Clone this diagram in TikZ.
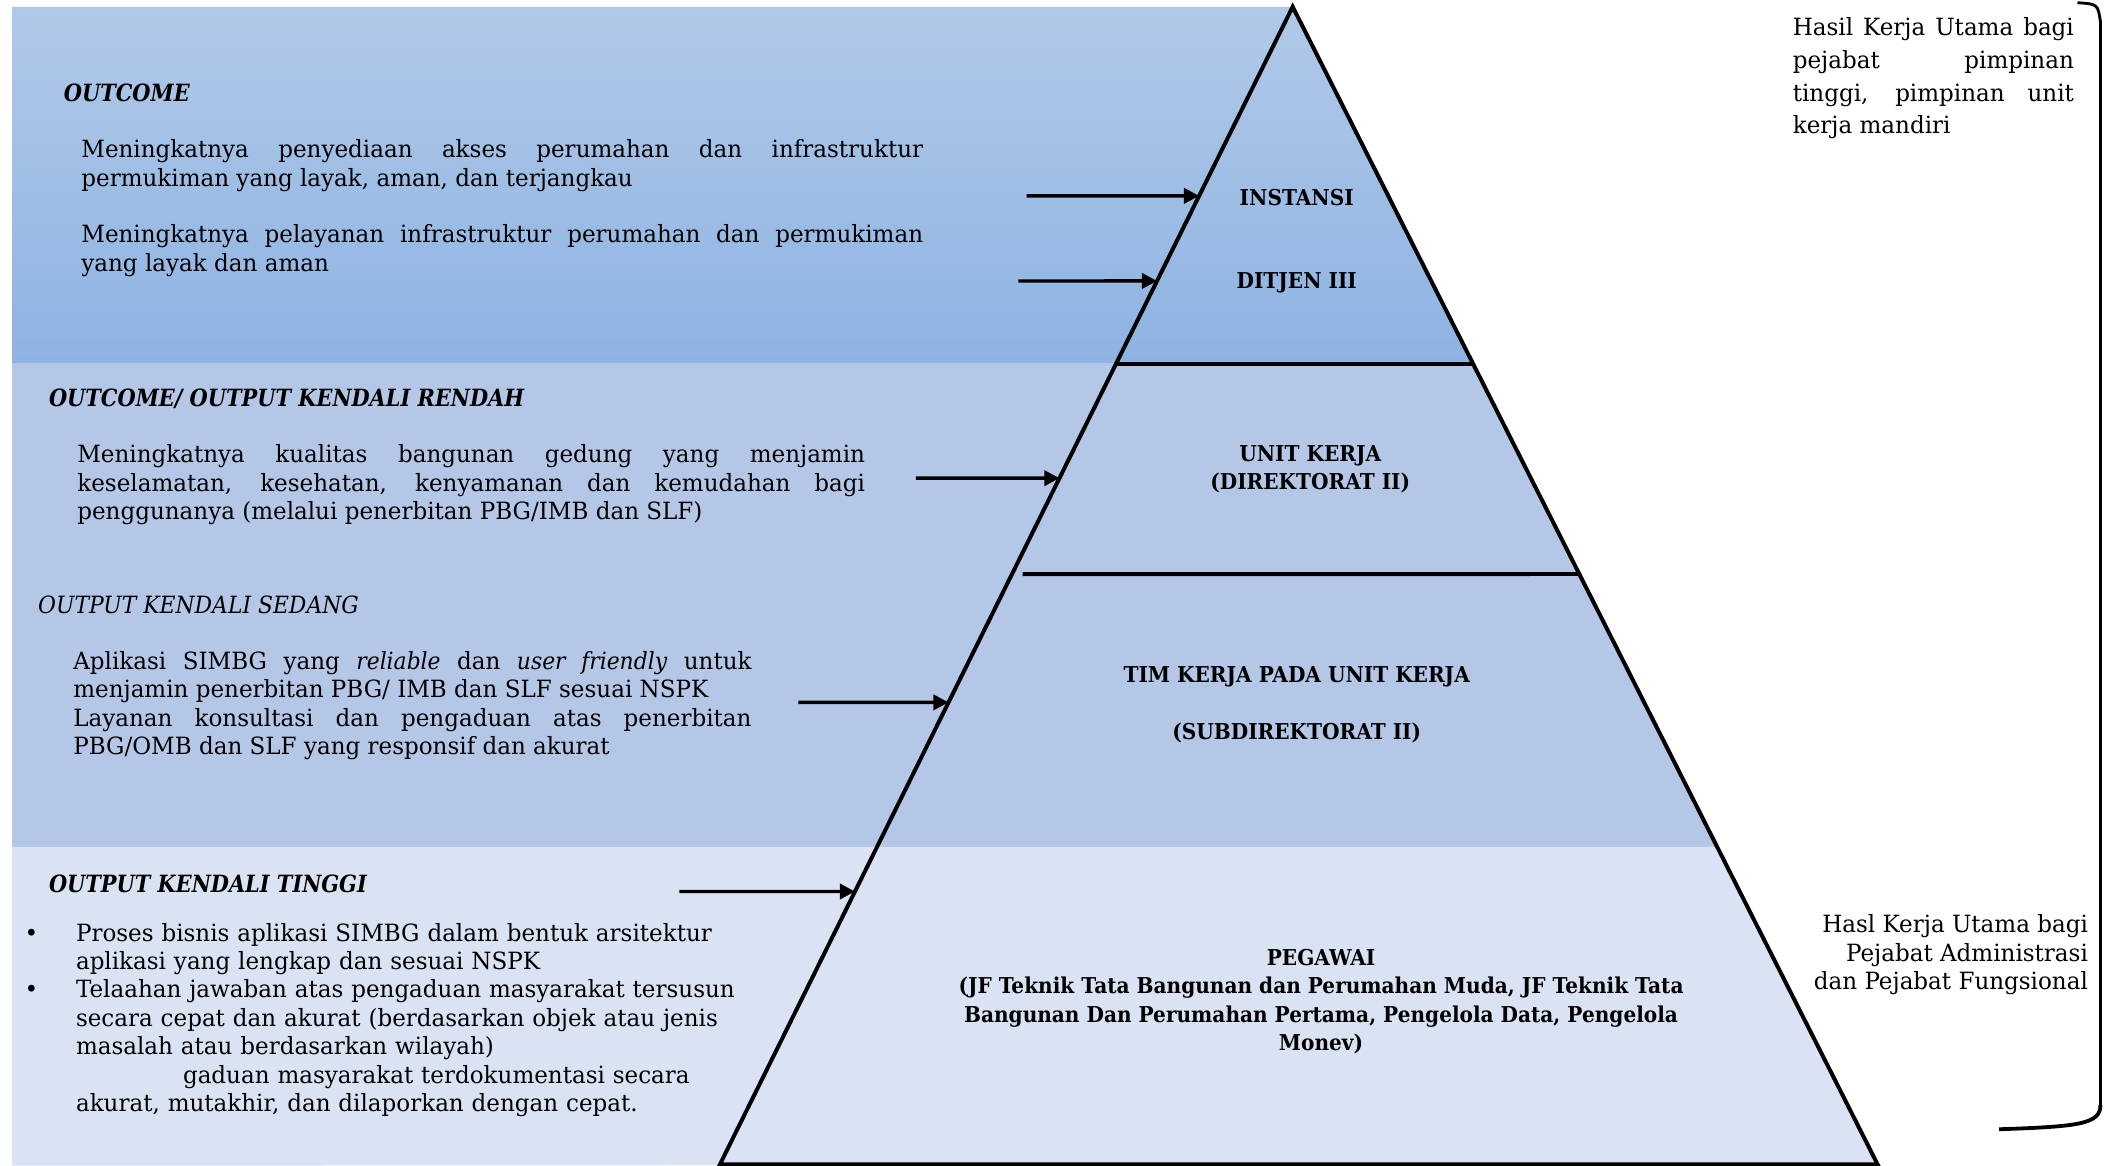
\documentclass[tikz,border=0pt]{standalone}
\usepackage{fontspec}
\setmainfont{DejaVu Serif}[FakeStretch=0.97, ItalicFeatures={FakeStretch=0.92}, BoldFeatures={FakeStretch=0.92}, BoldItalicFeatures={FakeStretch=0.88}]
\usetikzlibrary{arrows.meta, calc}

\definecolor{topband}{HTML}{B1C9E8}
\definecolor{topbandlow}{HTML}{8DB3E2}
\definecolor{midband}{HTML}{B4C7E7}
\definecolor{lowband}{HTML}{DAE3F3}

\tikzset{
 body/.style={font=\fontsize{12.5}{15}\selectfont, inner sep=0pt, anchor=north west, align=justify},
 head/.style={font=\fontsize{12.5}{15}\selectfont\bfseries\itshape, inner sep=0pt, anchor=west},
 lvl/.style={font=\fontsize{11.5}{15}\selectfont\bfseries, inner sep=0pt, align=center},
 arr/.style={line width=1.8pt, -{Triangle[length=8pt, width=8pt]}},
 pyr/.style={line width=2.1pt, line join=miter}
}

\begin{document}
\begin{tikzpicture}[x=0.025cm, y=-0.025cm]
\useasboundingbox (0,0) rectangle (1568,863);
\coordinate (apex) at (957,5);
\coordinate (bl) at (533,862);
\coordinate (br) at (1390,862);

\begin{scope}
\clip (9,5) -- (apex) -- (br) -- (9,863) -- cycle;
\shade[top color=topband, bottom color=topbandlow] (9,5) rectangle (1400,269);
\fill[midband] (9,269) rectangle (1400,627);
\fill[lowband] (9,627) rectangle (1400,863);
\end{scope}

\draw[pyr] (apex) -- (bl) -- (br) -- cycle;
\draw[pyr] ($(apex)!0.309!(bl)$) -- ($(apex)!0.309!(br)$);
\coordinate (cut) at (757,425);
\draw[pyr] (cut) -- ($(apex)!0.49!(br)$);

\foreach \y/\x [count=\i] in {145/760, 208/754, 354/678, 520/591, 660/503} {
 \pgfmathsetmacro\t{(\y-5)/857}
 \coordinate (s\i) at (\x,\y);
 \coordinate (e\i) at ($(apex)!\t!(bl)$);
 \draw[arr] (s\i) -- (e\i);
}

\node[lvl] (inst) at (960,146) {INSTANSI};
\node[lvl] (ditjen) at (960,209) {DITJEN III};
\node[lvl] (unitk) at (970,347.5) {UNIT KERJA\\(DIREKTORAT II)};
\node[lvl] (timk) at (960,522) {TIM KERJA PADA UNIT KERJA\\[15pt](SUBDIREKTORAT II)};
\node[lvl] (pegawai) at (978,741.5) {PEGAWAI\\(JF Teknik Tata Bangunan dan Perumahan Muda, JF Teknik Tata\\Bangunan Dan Perumahan Pertama, Pengelola Data, Pengelola\\Monev)};

\node[head] (hOutcome) at (47,69) {OUTCOME};
\node[body, text width=15.575cm] (pOutA) at (60,103) {Meningkatnya penyediaan akses perumahan dan infrastruktur\linebreak permukiman yang layak, aman, dan terjangkau};
\node[body, text width=15.575cm] (pOutB) at (60,166) {Meningkatnya pelayanan infrastruktur perumahan dan permukiman\linebreak yang layak dan aman};

\node[head] (hRendah) at (36,295) {OUTCOME/ OUTPUT KENDALI RENDAH};
\node[body, text width=14.575cm] (pRendah) at (57,329) {Meningkatnya kualitas bangunan gedung yang menjamin\linebreak keselamatan, kesehatan, kenyamanan dan kemudahan bagi\linebreak penggunanya (melalui penerbitan PBG/IMB dan SLF)};

\node[head, font=\fontsize{12.5}{15}\selectfont\itshape] (hSedang) at (28,448) {OUTPUT KENDALI SEDANG};
\node[body, text width=12.55cm] (pSedang) at (54,482) {Aplikasi SIMBG yang \textit{reliable} dan \textit{user friendly} untuk\linebreak menjamin penerbitan PBG/ IMB dan SLF sesuai NSPK\\Layanan konsultasi dan pengaduan atas penerbitan\linebreak PBG/OMB dan SLF yang responsif dan akurat};

\node[head] (hTinggi) at (36,654) {OUTPUT KENDALI TINGGI};
\node[body, text width=13.5cm, align=left] (pTinggi) at (56,683) {\leavevmode\llap{\textbullet\hspace{0.7cm}}Proses bisnis aplikasi SIMBG dalam bentuk arsitektur\\aplikasi yang lengkap dan sesuai NSPK\\\leavevmode\llap{\textbullet\hspace{0.7cm}}Telaahan jawaban atas pengaduan masyarakat tersusun\\secara cepat dan akurat (berdasarkan objek atau jenis\\masalah atau berdasarkan wilayah)\\\hspace*{1.98cm}gaduan masyarakat terdokumentasi secara\\akurat, mutakhir, dan dilaporkan dengan cepat.};

\node[body, text width=5.2cm, font=\fontsize{12.5}{17.2}\selectfont] (pTop) at (1327,13) {Hasil Kerja Utama bagi\linebreak pejabat pimpinan\linebreak tinggi, pimpinan unit\linebreak kerja mandiri};
\node[body, anchor=north east, align=right] (pLow) at (1546,677) {Hasl Kerja Utama bagi\\Pejabat Administrasi\\dan Pejabat Fungsional};

\draw[line width=1.5pt] (1538,2) .. controls (1553,3) .. (1555,16) -- (1555,818);
\draw[line width=2pt] (1555,818) .. controls (1555,832) and (1540,834) .. (1480,836);
\end{tikzpicture}
\end{document}
